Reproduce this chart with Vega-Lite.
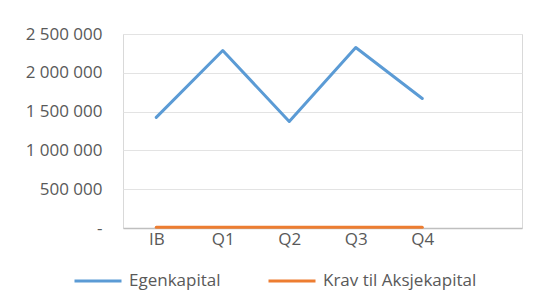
{
  "$schema": "https://vega.github.io/schema/vega-lite/v6.json",
  "width": 399,
  "height": 194,
  "autosize": {"type": "none"},
  "padding": {"left": 123, "top": 34, "right": 16, "bottom": 77},
  "background": "white",
  "config": {
    "locale": {"number": {"decimal": ",", "thousands": " ", "grouping": [3], "currency": ["", " kr"]}},
    "view": {"stroke": "#d9d9d9", "strokeWidth": 1},
    "font": "Open Sans"
  },
  "data": {
    "values": [
      {"periode": "IB", "serie": "Egenkapital", "verdi": 1425000},
      {"periode": "Q1", "serie": "Egenkapital", "verdi": 2287000},
      {"periode": "Q2", "serie": "Egenkapital", "verdi": 1372000},
      {"periode": "Q3", "serie": "Egenkapital", "verdi": 2326000},
      {"periode": "Q4", "serie": "Egenkapital", "verdi": 1669000},
      {"periode": "IB", "serie": "Krav til Aksjekapital", "verdi": 10000},
      {"periode": "Q1", "serie": "Krav til Aksjekapital", "verdi": 10000},
      {"periode": "Q2", "serie": "Krav til Aksjekapital", "verdi": 10000},
      {"periode": "Q3", "serie": "Krav til Aksjekapital", "verdi": 10000},
      {"periode": "Q4", "serie": "Krav til Aksjekapital", "verdi": 10000}
    ]
  },
  "mark": {"type": "line", "strokeWidth": 3, "strokeCap": "round", "strokeJoin": "round"},
  "encoding": {
    "x": {
      "field": "periode",
      "type": "ordinal",
      "scale": {"type": "point", "domain": ["IB", "Q1", "Q2", "Q3", "Q4", " "], "padding": 0.5},
      "axis": {
        "title": null,
        "labelAngle": 0,
        "labelFont": "Open Sans",
        "labelFontSize": 17,
        "labelColor": "#595959",
        "labelPadding": 3,
        "ticks": false,
        "domainColor": "#bfbfbf",
        "domainWidth": 1.5,
        "grid": false
      }
    },
    "y": {
      "field": "verdi",
      "type": "quantitative",
      "scale": {"domain": [0, 2500000], "nice": false},
      "axis": {
        "title": null,
        "values": [0, 500000, 1000000, 1500000, 2000000, 2500000],
        "format": ",d",
        "labelExpr": "datum.value == 0 ? '-' : datum.label",
        "labelFont": "Open Sans",
        "labelFontSize": 17,
        "labelColor": "#595959",
        "labelPadding": 21,
        "ticks": false,
        "domain": false,
        "grid": true,
        "gridColor": "#e3e3e3",
        "gridWidth": 1
      }
    },
    "color": {
      "field": "serie",
      "type": "nominal",
      "scale": {"domain": ["Egenkapital", "Krav til Aksjekapital"], "range": ["#5b9bd5", "#ed7d31"]},
      "legend": {
        "title": null,
        "orient": "none",
        "legendX": -50,
        "legendY": 222,
        "direction": "horizontal",
        "symbolType": "stroke",
        "symbolSize": 2209,
        "symbolStrokeWidth": 3,
        "labelFont": "Open Sans",
        "labelFontSize": 17,
        "labelColor": "#595959",
        "labelOffset": 6,
        "columnPadding": 41
      }
    }
  }
}
